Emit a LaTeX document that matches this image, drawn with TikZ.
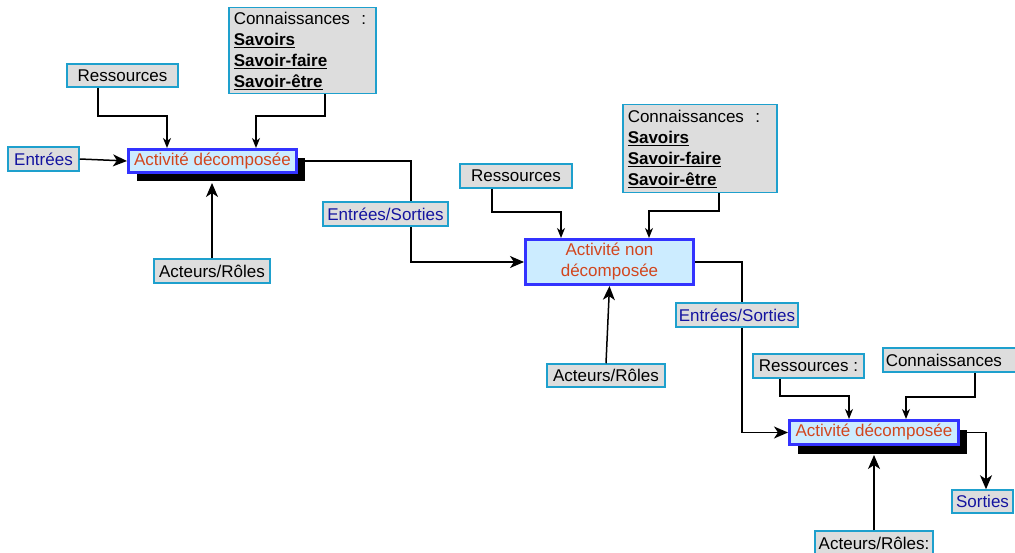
\documentclass[tikz,border=0pt]{standalone}
\usepackage{fontspec}
\setmainfont{Liberation Sans}
\usetikzlibrary{arrows.meta,shadows}
\definecolor{labfill}{RGB}{221,221,221}
\definecolor{labdraw}{RGB}{30,160,205}
\definecolor{actfill}{RGB}{204,236,255}
\definecolor{actdraw}{RGB}{51,51,255}
\definecolor{acttext}{RGB}{210,70,30}
\definecolor{bluetext}{RGB}{20,20,160}
\begin{document}
\begin{tikzpicture}[x=1pt,y=-1pt,
 font=\fontsize{17}{21}\selectfont,
 lab/.style={draw=labdraw, fill=labfill, line width=1.5pt, inner sep=0pt, anchor=center},
 io/.style={lab, text=bluetext},
 conn/.style={lab, align=left, inner xsep=5pt, anchor=north west},
 act/.style={draw=actdraw, fill=actfill, line width=3pt, text=acttext, inner sep=0pt, align=center, anchor=center},
 shad/.style={general shadow={fill=black, shadow xshift=8pt, shadow yshift=-9pt}},
 wire/.style={line width=1.5pt},
 big/.style={wire, -{Stealth[length=14pt,width=12pt,inset=4pt]}},
 small/.style={wire, -{Stealth[length=10pt,width=8pt,inset=3pt]}},
]
\clip (0,0) rectangle (1015,553);
\fill[white] (0,0) rectangle (1015,553);

% ---------- block 1 ----------
\node[lab, minimum width=111pt, minimum height=23pt] (res1) at (122.5,75.5) {Ressources};
\node[conn, minimum width=147pt, minimum height=86pt, text width=137pt] (con1) at (228,7)
  {Connaissances\ \ :\\\underline{\textbf{Savoirs}}\\\underline{\textbf{Savoir-faire}}\\\underline{\textbf{Savoir-être}}};
\node[io, minimum width=71pt, minimum height=24pt] (ent) at (43.5,159) {Entrées};
\node[act, shad, minimum width=168pt, minimum height=23pt] (act1) at (212.5,161) {Activité décomposée};
\node[lab, minimum width=116pt, minimum height=24pt] (act1r) at (212,271) {Acteurs/Rôles};

\draw[small] (98,0 |- res1.south) |- (167,116) -- (167,0 |- act1.north);
\draw[small] (325,0 |- con1.south) |- (256,116) -- (256,0 |- act1.north);
\draw[big] (ent.east) -- (act1.west);
\draw[big] (act1r.north) -- (212,183);

% ---------- block 2 ----------
\node[lab, minimum width=112pt, minimum height=24pt] (res2) at (516,176) {Ressources};
\node[conn, minimum width=154pt, minimum height=88pt, text width=144pt] (con2) at (622,104)
  {Connaissances\ \ :\\\underline{\textbf{Savoirs}}\\\underline{\textbf{Savoir-faire}}\\\underline{\textbf{Savoir-être}}};
\node[act, minimum width=168pt, minimum height=45pt] (act2) at (609.5,262) {Activité non\\décomposée};
\node[lab, minimum width=118pt, minimum height=23pt] (act2r) at (606,375.5) {Acteurs/Rôles};

\draw[big] (act1.east) -| (411,200) |- (act2.west);
\node[io, minimum width=125pt, minimum height=24pt] (es1) at (385.5,214) {Entrées/Sorties};
\draw[small] (492,0 |- res2.south) |- (561,212) -- (561,0 |- act2.north);
\draw[small] (719,0 |- con2.south) |- (649,211) -- (649,0 |- act2.north);
\draw[big] (act2r.north) -- (act2.south);

% ---------- block 3 ----------
\node[lab, minimum width=111pt, minimum height=24pt] (res3) at (808.5,366) {Ressources :};
\node[lab, minimum width=138pt, minimum height=24pt, anchor=west, align=left, inner xsep=3pt, text width=132pt] (con3) at (882,360) {Connaissances};
\node[act, shad, minimum width=169pt, minimum height=24pt] (act3) at (874,432.5) {Activité décomposée};
\node[io, minimum width=61pt, minimum height=23pt] (sort) at (982.5,501.5) {Sorties};
\node[lab, minimum width=118pt, minimum height=24pt] (act3r) at (874,543) {Acteurs/Rôles:};

\draw[big] (act2.east) -| (742,300) |- (act3.west);
\node[io, minimum width=122pt, minimum height=24pt] (es2) at (737,315) {Entrées/Sorties};
\draw[small] (780,0 |- res3.south) |- (849,396) -- (849,0 |- act3.north);
\draw[small] (975,0 |- con3.south) |- (906,397) -- (906,0 |- act3.north);
\draw[big] (act3.east) -| (986,0 |- sort.north);
\draw[big] (act3r.north) -- (874,455);
\end{tikzpicture}
\end{document}
